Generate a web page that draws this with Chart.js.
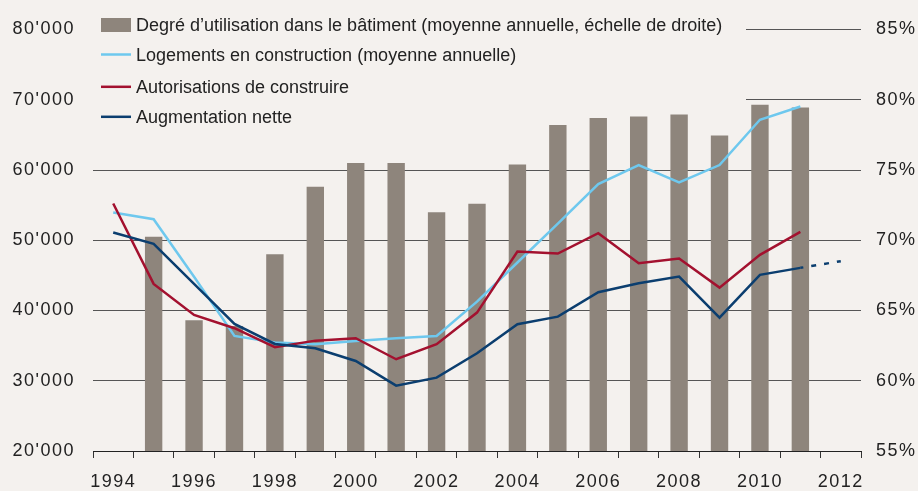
<!DOCTYPE html>
<html>
<head>
<meta charset="utf-8">
<script src="https://cdn.jsdelivr.net/npm/chart.js@4/dist/chart.umd.min.js"></script>
<style>
  html, body { margin: 0; padding: 0; background: #f4f1ee; }
  #wrap { width: 918px; height: 491px; }
</style>
</head>
<body>
<div id="wrap"><canvas id="c" width="918" height="491"></canvas></div>
<script>
const years = ['1994','1995','1996','1997','1998','1999','2000','2001','2002','2003','2004','2005','2006','2007','2008','2009','2010','2011','2012'];
const utilisation = [null, 70.25, 64.3, 63.9, 69.0, 73.8, 75.5, 75.5, 72.0, 72.6, 75.4, 78.2, 78.7, 78.8, 78.95, 77.45, 79.65, 79.45, null];
const logements = [53940, 53000, 44800, 36380, 35430, 35200, 35670, 36050, 36380, 41270, 46830, 52380, 57990, 60700, 58220, 60700, 67150, 69040, null];
const autorisations = [55230, 43790, 39370, 37480, 34770, 35710, 36050, 33060, 35200, 39700, 48390, 48100, 51010, 46740, 47390, 43260, 47920, 51200, null];
const augmentation = [51100, 49490, 43790, 38090, 35240, 34630, 32820, 29300, 30440, 33920, 38050, 39130, 42610, 43890, 44830, 38990, 45070, 46070, 47020];
const leftTicks = [20000, 30000, 40000, 50000, 60000, 70000, 80000];
const rightTicks = [55, 60, 65, 70, 75, 80, 85];
const labels = {
  utilisation: 'Degré d’utilisation dans le bâtiment (moyenne annuelle, échelle de droite)',
  logements: 'Logements en construction (moyenne annuelle)',
  autorisations: 'Autorisations de construire',
  augmentation: 'Augmentation nette'
};
const lastActual = 17; // index of last observed value (2011); after it the line is an estimate

const BG = '#f4f1ee';
const BAR = '#8e857c';
const LIGHT = '#6ec8ee';
const RED = '#a3112f';
const DARK = '#0b3e6f';
const TEXT = '#222222';
const FONT = '"Liberation Sans", Arial, sans-serif';

const fmtThousands = v => String(v).replace(/\B(?=(\d{3})+(?!\d))/g, "'");

const spacingPlugin = {
  id: 'spacing',
  beforeUpdate(chart) { chart.ctx.letterSpacing = '1.5px'; },
  beforeDraw(chart) {
    const ctx = chart.ctx;
    ctx.save();
    ctx.letterSpacing = '0px';
    ctx.fillStyle = BG;
    ctx.fillRect(0, 0, chart.width, chart.height);
    ctx.restore();
    ctx.letterSpacing = '1.5px';
  }
};

const legendPlugin = {
  id: 'customLegend',
  beforeDatasetsDraw(chart) {
    const ctx = chart.ctx;
    const area = chart.chartArea;
    ctx.save();
    ctx.letterSpacing = '0px';
    // legend box hides the gridlines behind it
    ctx.fillStyle = BG;
    ctx.fillRect(area.left, 0, 746 - area.left, 131);
    const rows = [31, 61, 93.3, 123.3];
    const x0 = 101, sw = 30;
    chart.data.datasets.forEach((ds, i) => {
      const base = rows[i];
      if (ds.type === 'bar') {
        ctx.fillStyle = ds.backgroundColor;
        ctx.fillRect(x0, base - 13, sw, 14);
      } else {
        ctx.strokeStyle = ds.borderColor;
        ctx.lineWidth = 2.5;
        ctx.beginPath();
        ctx.moveTo(x0, base - 6.5);
        ctx.lineTo(x0 + sw, base - 6.5);
        ctx.stroke();
      }
      ctx.fillStyle = TEXT;
      ctx.font = '18px ' + FONT;
      ctx.textBaseline = 'alphabetic';
      ctx.textAlign = 'left';
      ctx.fillText(ds.label, 136, base);
    });
    ctx.restore();
  }
};

new Chart(document.getElementById('c'), {
  data: {
    labels: years,
    datasets: [
      {
        type: 'bar', label: labels.utilisation, data: utilisation, yAxisID: 'y1',
        backgroundColor: BAR, borderWidth: 0, barPercentage: 0.43, categoryPercentage: 1, order: 10
      },
      {
        type: 'line', label: labels.logements, data: logements, yAxisID: 'y',
        borderColor: LIGHT, borderWidth: 2.5, pointRadius: 0, tension: 0, order: 3
      },
      {
        type: 'line', label: labels.autorisations, data: autorisations, yAxisID: 'y',
        borderColor: RED, borderWidth: 2.5, pointRadius: 0, tension: 0, order: 2
      },
      {
        type: 'line', label: labels.augmentation, data: augmentation, yAxisID: 'y',
        borderColor: DARK, borderWidth: 2.5, pointRadius: 0, tension: 0, order: 1,
        segment: {
          borderDash: c => c.p0DataIndex >= lastActual ? [5, 8] : undefined,
          borderDashOffset: c => c.p0DataIndex >= lastActual ? 2 : undefined
        }
      }
    ]
  },
  options: {
    responsive: false,
    animation: false,
    devicePixelRatio: 1,
    layout: { padding: { top: 29.5, left: 0, right: 0, bottom: 0 } },
    plugins: { legend: { display: false }, tooltip: { enabled: false } },
    scales: {
      x: {
        type: 'category',
        offset: true,
        grid: { offset: true, drawOnChartArea: false, drawTicks: true, tickLength: 7, color: '#333', lineWidth: 1 },
        border: { display: true, color: '#222', width: 1 },
        ticks: {
          autoSkip: false, maxRotation: 0, minRotation: 0, padding: 13,
          color: TEXT, font: { family: FONT, size: 18 },
          callback: (v, i) => (i % 2 === 0 ? years[i] : '')
        },
        afterFit: s => { s.height = 40; }
      },
      y: {
        position: 'left',
        min: leftTicks[0], max: leftTicks[leftTicks.length - 1],
        afterBuildTicks: s => { s.ticks = leftTicks.map(v => ({ value: v })); },
        grid: {
          drawTicks: false, lineWidth: 1,
          color: c => (c.index === 0 ? '#222' : '#555')
        },
        border: { display: false },
        ticks: { padding: 18, color: TEXT, font: { family: FONT, size: 18 }, callback: v => fmtThousands(v) },
        afterFit: s => { s.width = 93; }
      },
      y1: {
        position: 'right',
        min: rightTicks[0], max: rightTicks[rightTicks.length - 1],
        afterBuildTicks: s => { s.ticks = rightTicks.map(v => ({ value: v })); },
        grid: { display: false, drawTicks: false },
        border: { display: false },
        ticks: { padding: 15, color: TEXT, font: { family: FONT, size: 18 }, callback: v => v + '%' },
        afterFit: s => { s.width = 57; }
      }
    }
  },
  plugins: [spacingPlugin, legendPlugin]
});
</script>
</body>
</html>
